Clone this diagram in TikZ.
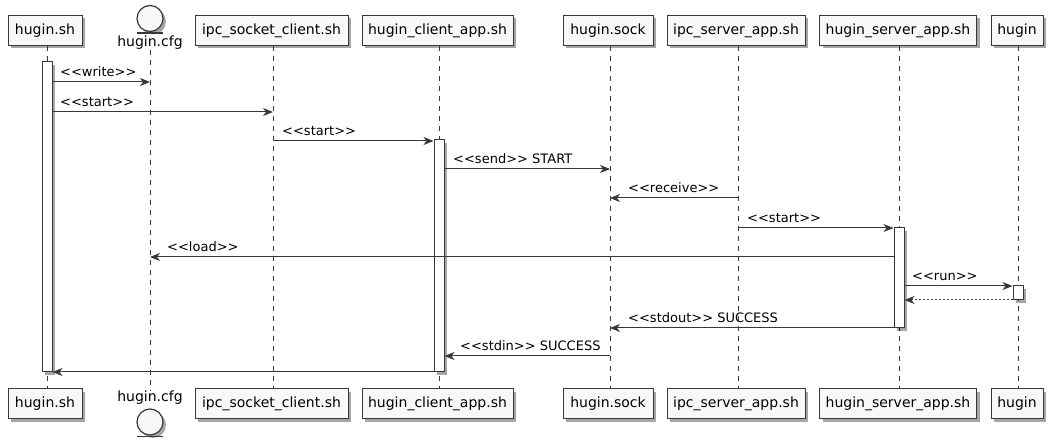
\documentclass[tikz,border=0pt]{standalone}
\usepackage{fontspec}
\setmainfont{DejaVu Sans}[Ligatures=TeXOff]
\usetikzlibrary{arrows.meta,shadows,calc}
\definecolor{ln}{HTML}{383838}
\definecolor{bx}{HTML}{F8F8F8}
\newcommand\umlfs{\fontsize{13}{15}\selectfont}
\newcommand\umlpfs{\fontsize{14}{16}\selectfont}
\tikzset{
  shad/.style={drop shadow={shadow xshift=3pt,shadow yshift=-3pt,opacity=0.35,fill=black}},
  part/.style={draw=ln, fill=bx, line width=1pt, minimum height=30pt, inner sep=0pt, font=\umlpfs, shad},
  ent/.style={circle, draw=ln, fill=bx, line width=1.2pt, minimum size=26pt, inner sep=0pt, shad},
  entlbl/.style={font=\umlpfs, inner sep=0pt},
  lifeline/.style={draw=ln, line width=0.8pt, dash pattern=on 5pt off 5pt},
  act/.style={draw=ln, fill=white, line width=1pt, minimum width=10pt, inner sep=0pt, shad},
  msg/.style={draw=ln, line width=1pt, -{Stealth[length=10pt,width=8pt,inset=3pt]}},
  ret/.style={msg, dash pattern=on 2pt off 2pt},
  lbl/.style={font=\umlfs, anchor=base west, inner sep=0pt},
}
\begin{document}
\begin{tikzpicture}[x=1pt,y=-1pt]
\useasboundingbox (0,0) rectangle (1053,446);
% lifeline x positions
\coordinate (l1) at (47,0);
\coordinate (l2) at (150,0);
\coordinate (l3) at (273,0);
\coordinate (l4) at (439,0);
\coordinate (l5) at (610,0);
\coordinate (l6) at (738,0);
\coordinate (l7) at (899,0);
\coordinate (l8) at (1018,0);
% top participants
\node[part, minimum width=74pt]  (p1t) at (45,30.5) {hugin.sh};
\node[part, minimum width=153pt] (p3t) at (271.5,30.5) {ipc\_socket\_client.sh};
\node[part, minimum width=151pt] (p4t) at (437.5,30.5) {hugin\_client\_app.sh};
\node[part, minimum width=90pt]  (p5t) at (608,30.5) {hugin.sock};
\node[part, minimum width=138pt] (p6t) at (736,30.5) {ipc\_server\_app.sh};
\node[part, minimum width=157pt] (p7t) at (898,30.5) {hugin\_server\_app.sh};
\node[part, minimum width=52pt]  (p8t) at (1017,30.5) {hugin};
\node[ent] (e2t) at (150,18.5) {};
\draw[ln, line width=1.2pt] (137,33) coordinate (u1a) -- (163,33) coordinate (u1b);
\node[entlbl] (p2t) at (150,43) {hugin.cfg};
% bottom participants
\node[part, minimum width=74pt]  (p1b) at (45,404) {hugin.sh};
\node[part, minimum width=153pt] (p3b) at (271.5,404) {ipc\_socket\_client.sh};
\node[part, minimum width=151pt] (p4b) at (437.5,404) {hugin\_client\_app.sh};
\node[part, minimum width=90pt]  (p5b) at (608,404) {hugin.sock};
\node[part, minimum width=138pt] (p6b) at (736,404) {ipc\_server\_app.sh};
\node[part, minimum width=157pt] (p7b) at (898,404) {hugin\_server\_app.sh};
\node[part, minimum width=52pt]  (p8b) at (1017,404) {hugin};
\node[entlbl] (p2b) at (150,398) {hugin.cfg};
\node[ent] (e2b) at (150,422) {};
\draw[ln, line width=1.2pt] (137,436.5) coordinate (u2a) -- (163,436.5) coordinate (u2b);
% lifelines
\draw[lifeline] (l1 |- p1t.south) -- (l1 |- p1b.north);
\draw[lifeline] (l2 |- p2t.south) -- (l2 |- p2b.north);
\draw[lifeline] (l3 |- p3t.south) -- (l3 |- p3b.north);
\draw[lifeline] (l4 |- p4t.south) -- (l4 |- p4b.north);
\draw[lifeline] (l5 |- p5t.south) -- (l5 |- p5b.north);
\draw[lifeline] (l6 |- p6t.south) -- (l6 |- p6b.north);
\draw[lifeline] (l7 |- p7t.south) -- (l7 |- p7b.north);
\draw[lifeline] (l8 |- p8t.south) -- (l8 |- p8b.north);
% activations
\node[act, minimum height=310pt] (a1) at (47,217) {};
\node[act, minimum height=232pt] (a2) at (439,256) {};
\node[act, minimum height=100pt] (a3) at (899,278) {};
\node[act, minimum height=14pt]  (a4) at (1018,293) {};
% messages
\draw[msg] (a1.east |- 0,82) -- (l2 |- 0,82);
\node[lbl] (m1) at (60,77) {<<write>>};
\draw[msg] (a1.east |- 0,112) -- (l3 |- 0,112);
\node[lbl] (m2) at (60,107) {<<start>>};
\draw[msg] (l3 |- 0,141) -- (a2.west |- 0,141);
\node[lbl] (m3) at (282,136) {<<start>>};
\draw[msg] (a2.east |- 0,169) -- (l5 |- 0,169);
\node[lbl] (m4) at (453,164) {<<send>> START};
\draw[msg] (l6 |- 0,198) -- (l5 |- 0,198);
\node[lbl] (m5) at (628,193) {<<receive>>};
\draw[msg] (l6 |- 0,228) -- (a3.west |- 0,228);
\node[lbl] (m6) at (747,223) {<<start>>};
\draw[msg] (a3.west |- 0,257) -- (l2 |- 0,257);
\node[lbl] (m7) at (167,252) {<<load>>};
\draw[msg] (a3.east |- 0,286) -- (a4.west |- 0,286);
\node[lbl] (m8) at (912,281) {<<run>>};
\draw[ret] (a4.west |- 0,300) -- (a3.east |- 0,300);
\draw[msg] (a3.west |- 0,328) -- (l5 |- 0,328);
\node[lbl] (m10) at (628,323) {<<stdout>> SUCCESS};
\draw[msg] (l5 |- 0,356) -- (a2.east |- 0,356);
\node[lbl] (m11) at (460,351) {<<stdin>> SUCCESS};
\draw[msg] (a2.west |- 0,372) -- (a1.east |- 0,372);
\end{tikzpicture}
\end{document}
